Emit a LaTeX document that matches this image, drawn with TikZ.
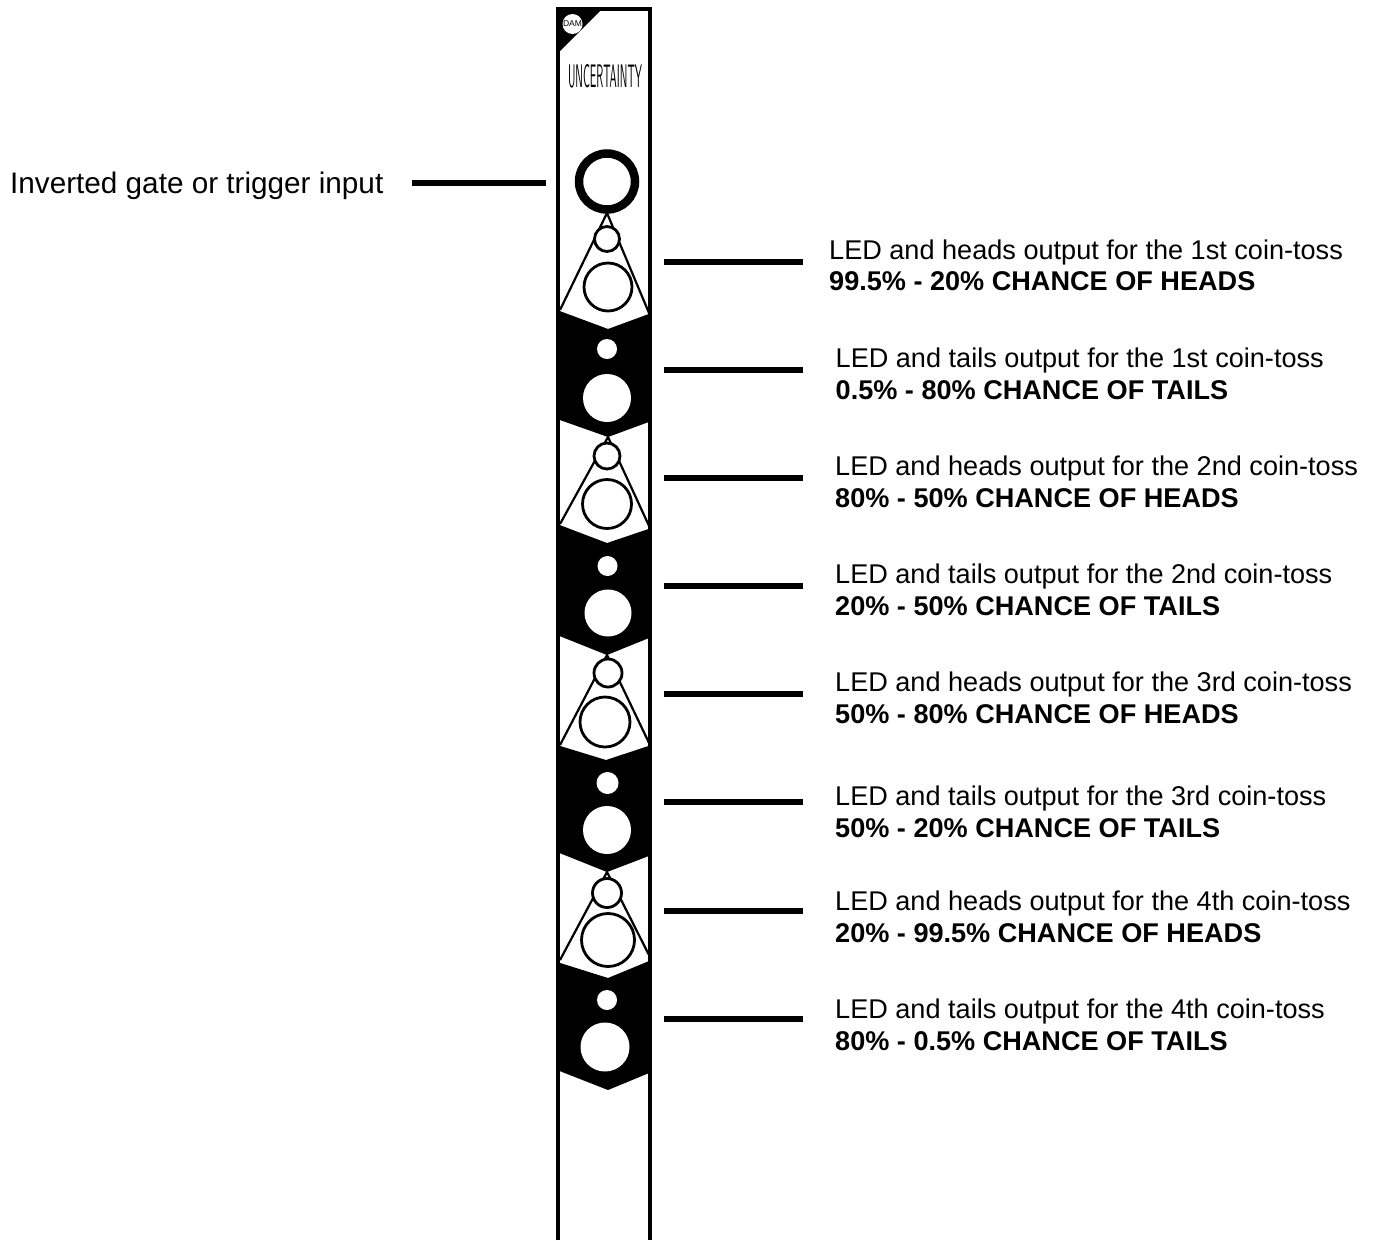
\documentclass[tikz,border=0pt]{standalone}
\usepackage{fontspec}
\setmainfont{Liberation Sans}
\usetikzlibrary{positioning}
\tikzset{
  panel/.style   ={draw=black, line width=3.2pt},
  ringjack/.style={circle, draw=black, fill=white, line width=2.8pt, inner sep=0pt},
  hole/.style    ={circle, fill=white, inner sep=0pt},
  gatejack/.style={circle, draw=black, fill=white, line width=8.5pt, inner sep=0pt, minimum size=56pt},
  pointer/.style ={draw=black, line width=5.4pt},
  callout/.style ={anchor=west, align=left, inner sep=0pt, font=\fontsize{27.1}{31.5}\selectfont},
}
\begin{document}
\begin{tikzpicture}[x=1pt,y=-1pt]
  \useasboundingbox (0,0) rectangle (1378,1240);
  % --- panel outline and badge ---
  \fill[white] (558,9) rectangle (650,1240);
  \draw[panel] (558,1240) -- (558,9) -- (650,9) -- (650,1240);
  \fill[black] (559,10) -- (601,10) -- (559,52) -- cycle;
  \node[hole,minimum size=20pt,font=\fontsize{8.5}{9}\selectfont] (badge) at (572.5,24) {DAM};
  \node[inner sep=0pt,font=\sffamily] (title) at (605,76.5) {\resizebox{74pt}{23pt}{UNCERTAINTY}};
  \node[gatejack] (gate) at (607,181.5) {};
  % --- heads sections ---
  \draw[line width=2.2pt] (560,310) -- (607,213) -- (649,313);
  \node[ringjack,minimum size=25pt] (led1) at (607,239) {};
  \node[ringjack,minimum size=48pt] (out1) at (608,287) {};
  \draw[line width=2.2pt] (560,524) -- (608,437) -- (650,528);
  \node[ringjack,minimum size=26pt] (led3) at (607,456) {};
  \node[ringjack,minimum size=49pt] (out3) at (607,504) {};
  \draw[line width=2.2pt] (560,745) -- (607,655) -- (650,745);
  \node[ringjack,minimum size=28pt] (led5) at (608,673) {};
  \node[ringjack,minimum size=50pt] (out5) at (605,722) {};
  \draw[line width=2.2pt] (560,960) -- (607,872) -- (650,957);
  \node[ringjack,minimum size=29pt] (led7) at (607,893) {};
  \node[ringjack,minimum size=53pt] (out7) at (608,940) {};
  % --- tails sections ---
  \fill[black] (557,310) -- (608,329) -- (651.5,313) -- (651.5,421) -- (608,437) -- (557,419) -- cycle;
  \node[hole,minimum size=20pt] (led2) at (607,349) {};
  \node[hole,minimum size=48pt] (out2) at (607,398) {};
  \fill[black] (557,524) -- (607,543) -- (651.5,528) -- (651.5,637) -- (607,655) -- (557,635) -- cycle;
  \node[hole,minimum size=20pt] (led4) at (607.5,566) {};
  \node[hole,minimum size=47pt] (out4) at (608,613) {};
  \fill[black] (557,745) -- (606,760) -- (651.5,745) -- (651.5,855) -- (607,872) -- (557,852) -- cycle;
  \node[hole,minimum size=22pt] (led6) at (607.5,783) {};
  \node[hole,minimum size=48pt] (out6) at (607,830) {};
  \fill[black] (557,962) -- (608,978) -- (651.5,960) -- (651.5,1072) -- (608,1090) -- (557,1070) -- cycle;
  \node[hole,minimum size=20pt] (led8) at (607,1000) {};
  \node[hole,minimum size=49pt] (out8) at (605,1047) {};
  % --- labels ---
  \node[callout,font=\fontsize{29.7}{34}\selectfont] (lab0) at (10,186) {Inverted gate or trigger input};
  \node[callout] (lab1) at (829,265.3) {LED and heads output for the 1st coin-toss\\\textbf{99.5\% - 20\% CHANCE OF HEADS}};
  \node[callout] (lab2) at (835.5,373.8) {LED and tails output for the 1st coin-toss\\\textbf{0.5\% - 80\% CHANCE OF TAILS}};
  \node[callout] (lab3) at (835,481.8) {LED and heads output for the 2nd coin-toss\\\textbf{80\% - 50\% CHANCE OF HEADS}};
  \node[callout] (lab4) at (835,589.8) {LED and tails output for the 2nd coin-toss\\\textbf{20\% - 50\% CHANCE OF TAILS}};
  \node[callout] (lab5) at (835,697.8) {LED and heads output for the 3rd coin-toss\\\textbf{50\% - 80\% CHANCE OF HEADS}};
  \node[callout] (lab6) at (835,811.8) {LED and tails output for the 3rd coin-toss\\\textbf{50\% - 20\% CHANCE OF TAILS}};
  \node[callout] (lab7) at (835,916.8) {LED and heads output for the 4th coin-toss\\\textbf{20\% - 99.5\% CHANCE OF HEADS}};
  \node[callout] (lab8) at (835,1024.8) {LED and tails output for the 4th coin-toss\\\textbf{80\% - 0.5\% CHANCE OF TAILS}};
  % --- pointers ---
  \coordinate (p0a) at (412,183); \coordinate (p0b) at (546,183);
  \draw[pointer] (p0a) -- (p0b);
  \foreach \n/\y in {1/262,2/370,3/478,4/586,5/694,6/802,7/911,8/1019}{
    \coordinate (p\n a) at (664,\y); \coordinate (p\n b) at (803,\y);
    \draw[pointer] (p\n a) -- (p\n b);
  }
\end{tikzpicture}
\end{document}
